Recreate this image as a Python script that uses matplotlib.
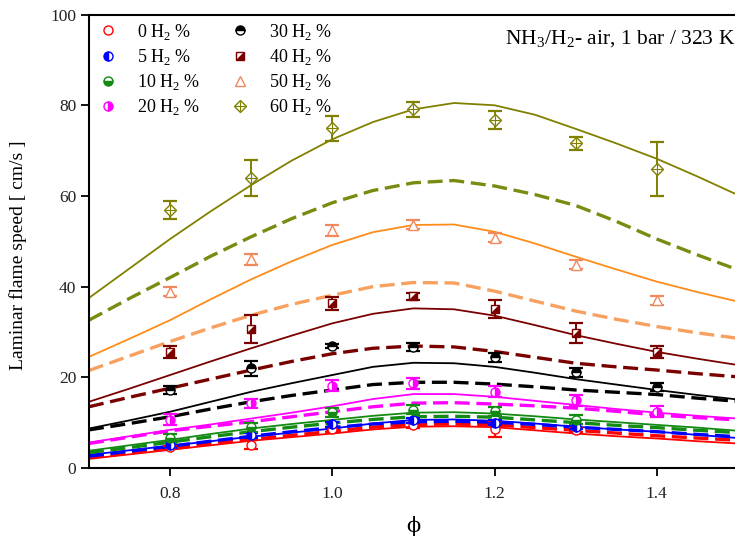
import numpy as np
import matplotlib
matplotlib.use("Agg")
import matplotlib.pyplot as plt
from matplotlib.lines import Line2D
from matplotlib.path import Path

plt.rcParams['font.family'] = ['Liberation Serif', 'DejaVu Serif']
plt.rcParams['mathtext.fontset'] = 'custom'
plt.rcParams['mathtext.rm'] = 'Liberation Serif'

# model curves (solid = mechanism A, dashed = mechanism B)
phi_model = [0.70, 0.75, 0.80, 0.85, 0.90, 0.95, 1.00, 1.05, 1.10,
             1.15, 1.20, 1.25, 1.30, 1.35, 1.40, 1.45, 1.50]

solid_0 = [2.0, 3.0, 4.0, 5.0, 6.0, 6.8, 7.6, 8.5, 9.1, 9.2, 9.0, 8.3, 7.6, 7.0, 6.5, 5.9, 5.4]
dash_0 = [2.3, 3.3, 4.3, 5.3, 6.3, 7.2, 8.1, 9.0, 9.6, 9.7, 9.5, 8.9, 8.3, 7.7, 7.1, 6.6, 6.1]
solid_5 = [2.9, 3.9, 4.9, 5.9, 6.9, 7.8, 8.7, 9.8, 10.6, 10.7, 10.4, 9.8, 9.1, 8.5, 8.0, 7.3, 6.6]
dash_5 = [2.6, 3.7, 4.8, 5.9, 7.0, 8.0, 8.9, 9.7, 10.2, 10.3, 10.1, 9.6, 9.0, 8.5, 8.0, 7.4, 6.9]
solid_10 = [3.8, 5.0, 6.2, 7.5, 8.7, 9.7, 10.6, 11.5, 12.2, 12.3, 12.0, 11.4, 10.7, 10.1, 9.5, 8.9, 8.2]
dash_10 = [3.4, 4.5, 5.7, 6.9, 8.0, 9.0, 9.9, 10.7, 11.3, 11.4, 11.2, 10.6, 10.0, 9.4, 8.9, 8.3, 7.8]
solid_20 = [5.6, 7.0, 8.4, 9.6, 10.9, 12.2, 13.6, 15.2, 16.3, 16.3, 15.7, 14.8, 13.9, 13.0, 12.2, 11.5, 10.9]
dash_20 = [5.4, 6.8, 8.2, 9.2, 10.2, 11.3, 12.4, 13.5, 14.3, 14.4, 14.1, 13.7, 13.2, 12.5, 11.7, 11.1, 10.6]
solid_30 = [8.7, 10.5, 12.4, 14.6, 16.8, 18.7, 20.5, 22.3, 23.2, 23.1, 22.3, 21.0, 19.6, 18.4, 17.2, 16.1, 15.1]
dash_30 = [8.4, 9.8, 11.3, 13.0, 14.6, 16.0, 17.2, 18.4, 18.9, 18.9, 18.5, 17.9, 17.2, 16.7, 16.2, 15.4, 14.7]
solid_40 = [14.6, 17.5, 20.5, 23.5, 26.4, 29.2, 31.9, 34.0, 35.2, 35.0, 33.6, 31.5, 29.3, 27.4, 25.6, 24.1, 22.7]
dash_40 = [13.5, 15.6, 17.6, 19.6, 21.6, 23.5, 25.2, 26.4, 26.9, 26.7, 25.7, 24.4, 23.1, 22.3, 21.6, 20.8, 20.1]
solid_50 = [24.5, 28.5, 32.6, 37.2, 41.6, 45.6, 49.2, 52.0, 53.6, 53.7, 52.1, 49.5, 46.6, 43.8, 41.1, 38.8, 36.7]
dash_50 = [21.5, 24.7, 27.9, 30.9, 33.7, 36.1, 38.1, 40.0, 40.9, 40.8, 39.0, 36.8, 34.6, 32.8, 31.2, 29.8, 28.6]
solid_60 = [37.5, 44.0, 50.5, 56.6, 62.4, 67.8, 72.5, 76.3, 79.1, 80.5, 80.0, 77.9, 74.8, 71.6, 68.2, 64.3, 60.2]
dash_60 = [32.6, 37.4, 42.0, 46.7, 51.0, 55.0, 58.5, 61.2, 62.9, 63.4, 62.2, 60.3, 57.9, 54.4, 50.5, 47.0, 43.7]

# measurements
phi_low = [0.8, 0.9, 1.0, 1.1, 1.2, 1.3]
phi_high = [0.8, 0.9, 1.0, 1.1, 1.2, 1.3, 1.4]

exp_0 = [4.6, 5.1, 8.5, 9.4, 8.6, 8.4]
err_0 = [0.3, 1.0, 0.5, 0.5, 1.8, 0.5]
exp_5 = [5.0, 7.2, 9.6, 10.5, 10.0, 9.1]
err_5 = [0.5, 0.5, 0.5, 0.5, 0.5, 0.5]
exp_10 = [6.5, 9.0, 12.3, 12.8, 12.5, 10.6]
err_10 = [1.0, 1.0, 1.0, 1.0, 1.0, 1.0]
exp_20 = [10.6, 14.3, 18.1, 18.7, 16.8, 14.9, 12.4]
err_20 = [1.2, 1.0, 1.2, 1.2, 1.2, 1.2, 1.2]
exp_30 = [17.2, 22.0, 26.9, 26.6, 24.4, 21.1, 17.8]
err_30 = [0.8, 1.7, 0.5, 0.9, 1.0, 1.0, 0.9]
exp_40 = [25.6, 30.6, 36.3, 37.9, 35.0, 29.8, 25.5]
err_40 = [1.3, 3.1, 1.4, 0.8, 2.0, 2.2, 1.3]
exp_50 = [38.9, 46.0, 52.4, 53.6, 50.8, 44.8, 37.0]
err_50 = [1.0, 1.3, 1.3, 1.0, 1.0, 1.0, 1.0]
exp_60 = [56.9, 64.0, 74.9, 79.1, 76.8, 71.6, 66.0]
err_60 = [2.0, 4.0, 2.8, 1.6, 2.0, 1.4, 6.0]

labels = ['0 H$_2$ %', '5 H$_2$ %', '10 H$_2$ %', '20 H$_2$ %',
          '30 H$_2$ %', '40 H$_2$ %', '50 H$_2$ %', '60 H$_2$ %']

# lower-right filled triangle for the 40 % marker
tri = Path([(-1, -1), (1, -1), (1, 1), (-1, -1)],
           [Path.MOVETO, Path.LINETO, Path.LINETO, Path.CLOSEPOLY])

fig = plt.figure(figsize=(7.35, 5.41), dpi=100)
ax = fig.add_axes([0.121, 0.135, 0.883, 0.838])

series = [
    (solid_0, dash_0, phi_low, exp_0, err_0, 'red', 'red', 'red'),
    (solid_5, dash_5, phi_low, exp_5, err_5, 'blue', 'blue', 'blue'),
    (solid_10, dash_10, phi_low, exp_10, err_10, '#138a13', '#138a13', '#138a13'),
    (solid_20, dash_20, phi_high, exp_20, err_20, 'magenta', 'magenta', 'magenta'),
    (solid_30, dash_30, phi_high, exp_30, err_30, 'black', 'black', 'black'),
    (solid_40, dash_40, phi_high, exp_40, err_40, '#7a0000', '#7a0000', '#7a0000'),
    (solid_50, dash_50, phi_high, exp_50, err_50, '#ff8c1a', '#f7a060', '#f08a5d'),
    (solid_60, dash_60, phi_high, exp_60, err_60, '#808000', '#7b8a10', '#808000'),
]

for s, d, px, ex, er, c_s, c_d, c_m in series:
    ax.plot(phi_model, s, color=c_s, lw=1.3, zorder=2)
    ax.plot(phi_model, d, color=c_d, lw=2.4, dashes=(4.5, 2), zorder=2)
    ax.errorbar(px, ex, yerr=er, fmt='none', ecolor=c_m, elinewidth=1.4,
                capsize=5, capthick=1.6, zorder=3)

ms = 6.5
mk = [
    dict(marker='o', mfc='white', mec='red', ms=ms),
    dict(marker='o', fillstyle='left', color='blue', mfcalt='white', ms=ms),
    dict(marker='o', fillstyle='bottom', color='#138a13', mfcalt='white', ms=ms),
    dict(marker='o', fillstyle='right', color='magenta', mfcalt='white', ms=ms),
    dict(marker='o', fillstyle='top', color='black', mfcalt='white', ms=ms),
    dict(marker='s', mfc='white', mec='#7a0000', ms=ms - 0.5),
    dict(marker='^', mfc='white', mec='#f08a5d', ms=ms + 0.5),
    dict(marker='D', mfc='white', mec='#808000', ms=ms - 0.5),
]

handles = []
for (s, d, px, ex, er, c_s, c_d, c_m), kw in zip(series, mk):
    ax.plot(px, ex, ls='none', mew=1.0, zorder=4, **kw)
    h = [Line2D([], [], ls='none', mew=1.0, **kw)]
    if kw['marker'] == 's':
        ax.plot(px, ex, ls='none', marker=tri, ms=ms - 1, color=c_m, mew=0, zorder=5)
        h.append(Line2D([], [], ls='none', marker=tri, ms=ms - 1, color=c_m, mew=0))
    if kw['marker'] == 'D':
        ax.plot(px, ex, ls='none', marker='+', ms=ms, color=c_m, mew=0.8, zorder=5)
        h.append(Line2D([], [], ls='none', marker='+', ms=ms, color=c_m, mew=0.8))
    handles.append(tuple(h))

ax.legend(handles, labels, loc='upper left', bbox_to_anchor=(-0.004, 1.012), ncol=2,
          frameon=False, fontsize=13, handlelength=1.0, handletextpad=1.1,
          columnspacing=1.7, labelspacing=0.28, borderaxespad=0.3)

ax.text(0.996, 0.968, 'NH$_3$/H$_2$- air, 1 bar / 323 K', transform=ax.transAxes,
        ha='right', va='top', fontsize=15.5)

ax.set_xlim(0.7, 1.5)
ax.set_ylim(0, 100)
ax.set_xticks([0.8, 1.0, 1.2, 1.4])
ax.set_xticklabels(['0.8', '1.0', '1.2', '1.4'])
ax.set_yticks([0, 20, 40, 60, 80, 100])
ax.tick_params(direction='out', length=6, width=1.3, labelsize=12.5, pad=3,
               labelcolor='#222222')
ax.tick_params(axis='x', pad=7)
for sp in ax.spines.values():
    sp.set_linewidth(1.5)
ax.spines['right'].set_visible(False)

ax.set_xlabel('ϕ', fontsize=15, labelpad=10, family=['DejaVu Serif'])
ax.set_ylabel('Laminar flame speed [ cm/s ]', fontsize=14)
ax.yaxis.set_label_coords(-0.095, 0.47)

fig.savefig('out.png', dpi=100)
